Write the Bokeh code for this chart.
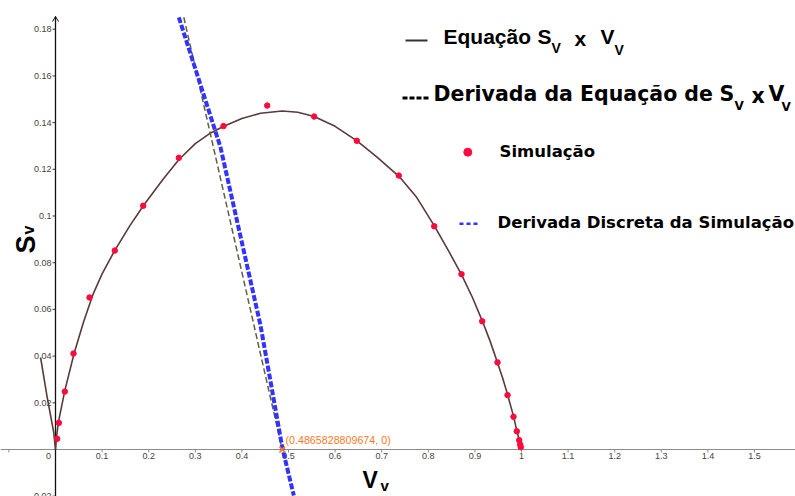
import numpy as np
from bokeh.plotting import figure
from bokeh.models import Range1d
from bokeh.core.properties import value
from bokeh.embed import file_html
from bokeh.resources import INLINE

# Equação S_V x V_V, sampled along the drawn curve
eq_vv = [-0.032, -0.018, -0.004, 0.0, 0.002, 0.006, 0.02, 0.04, 0.06, 0.08, 0.10,
         0.127, 0.16, 0.19, 0.23, 0.265, 0.30, 0.33, 0.36, 0.40, 0.44, 0.4866,
         0.52, 0.555, 0.60, 0.647, 0.69, 0.737, 0.775, 0.813, 0.845, 0.871, 0.895,
         0.916, 0.933, 0.948, 0.960, 0.970, 0.983, 0.990, 0.995, 0.998, 1.0]
eq_sv = [0.0394, 0.0225, 0.0075, 0.0, 0.0050, 0.0115, 0.0252, 0.0412, 0.0545, 0.0662, 0.0752,
         0.0852, 0.0960, 0.1048, 0.1155, 0.1242, 0.1310, 0.1352, 0.1383, 0.1418, 0.1440, 0.1450,
         0.1444, 0.1426, 0.1384, 0.1322, 0.1252, 0.1170, 0.1080, 0.0958, 0.0845, 0.0750, 0.0650,
         0.0550, 0.0462, 0.0375, 0.0303, 0.0236, 0.0142, 0.0080, 0.0042, 0.0015, 0.0]

# Simulação
sim_vv = [0.0036, 0.0071, 0.0200, 0.0386, 0.0730, 0.1273, 0.1882, 0.2646, 0.3605, 0.4543,
          0.5550, 0.6466, 0.7367, 0.8127, 0.8712, 0.9157, 0.9485, 0.9700, 0.9828, 0.9899,
          0.9951, 0.9972, 0.9985]
sim_sv = [0.0046, 0.0114, 0.0248, 0.0411, 0.0651, 0.0852, 0.1044, 0.1249, 0.1385, 0.1473,
          0.1426, 0.1322, 0.1173, 0.0956, 0.0751, 0.0549, 0.0373, 0.0233, 0.0140, 0.0078,
          0.0040, 0.0021, 0.0010]

# Derivada da Equação de S_V x V_V
deq_vv = [0.2753, 0.4866]
deq_sv = [0.1851, 0.0]

# Derivada Discreta da Simulação
dsim_vv = [0.2646, 0.354, 0.440, 0.4871, 0.5114]
dsim_sv = [0.1851, 0.1295, 0.0531, 0.0004, -0.0197]

# zero of the derivative
root_vv = 0.4865828809674

x_ticks = [-0.1, 0.1, 0.2, 0.3, 0.4, 0.5, 0.6, 0.7, 0.8, 0.9, 1.0, 1.1, 1.2, 1.3, 1.4, 1.5]
x_tick_labels = ["", "0.1", "0.2", "0.3", "0.4", "0.5", "0.6", "0.7", "0.8", "0.9",
                 "1", "1.1", "1.2", "1.3", "1.4", "1.5"]
y_ticks = [-0.02, 0.02, 0.04, 0.06, 0.08, 0.10, 0.12, 0.14, 0.16, 0.18]
y_tick_labels = ["-0.02", "0.02", "0.04", "0.06", "0.08", "0.1", "0.12", "0.14", "0.16", "0.18"]

# canvas geometry: pixels per unit and origin position on the page
W, H = 795, 496
XPP, YPP = 466.0, 2335.0
OX, OY = 55.0, 449.0


def sx(px):
    return (px - OX) / XPP


def sy(py):
    return (OY - py) / YPP


p = figure(width=W, height=H, output_backend="svg", toolbar_location=None,
           x_axis_type=None, y_axis_type=None, min_border=0,
           x_range=Range1d(sx(0), sx(W)), y_range=Range1d(sy(H), sy(0)))
p.outline_line_color = None
p.background_fill_color = "white"
p.border_fill_color = "white"

SANS = value("Liberation Sans")
WIDE = value("DejaVu Sans")

# axes
p.segment(x0=[sx(0)], y0=[0], x1=[sx(W)], y1=[0], line_color="#8c8c8c", line_width=1)
p.segment(x0=[0], y0=[sy(H)], x1=[0], y1=[sy(16)], line_color="#111111", line_width=1.3)
p.line(x=[sx(52), 0, sx(58)], y=[sy(21), sy(16), sy(21)], line_color="#111111", line_width=1)

# ticks
p.segment(x0=x_ticks, y0=[0] * len(x_ticks), x1=x_ticks, y1=[sy(452)] * len(x_ticks),
          line_color="#8c8c8c", line_width=1)
p.segment(x0=[sx(52)] * len(y_ticks), y0=y_ticks, x1=[0] * len(y_ticks), y1=y_ticks,
          line_color="#333333", line_width=1)
p.text(x=x_ticks, y=[sy(455)] * len(x_ticks), text=x_tick_labels, text_font=SANS,
       text_font_size="9px", text_color="#444444", text_align="center",
       text_baseline="middle")
p.text(x=[sx(48)], y=[sy(455)], text=["0"], text_font=SANS, text_font_size="9px",
       text_color="#444444", text_align="center", text_baseline="middle")
p.text(x=[sx(51)] * len(y_ticks), y=y_ticks, text=y_tick_labels, text_font=SANS,
       text_font_size="9px", text_color="#444444", text_align="right",
       text_baseline="middle")

# series
p.line(eq_vv, eq_sv, line_color="#5a3a3a", line_width=1.6)
p.line(deq_vv, deq_sv, line_color="#5f5f42", line_width=1.5, line_dash="6 3")
p.line(dsim_vv, dsim_sv, line_color="#3333ff", line_width=4, line_dash="6 2")
p.scatter(sim_vv, sim_sv, size=5.5, fill_color="#ff0a3c", line_color="#ff0a3c")

# derivative zero
p.scatter([root_vv], [0], marker="x", size=8, line_color="#ff7a1f", line_width=1.6)
p.text(x=[sx(285)], y=[sy(439)], text=["(%s, 0)" % repr(root_vv)], text_font=SANS,
       text_font_size="10.7px", text_color="#ff7a1f", text_align="left",
       text_baseline="middle")


def label(px, py, txt, size, font=SANS, color="#000000", angle=0.0, bold=True):
    p.text(x=[sx(px)], y=[sy(py)], text=[txt], text_font=font, text_font_size=size,
           text_font_style="bold" if bold else "normal", text_color=color,
           text_align="left", text_baseline="middle", angle=angle)


# axis titles
label(362, 479, "V", "23px")
label(380, 485, "v", "15px")
label(25, 253, "S", "27px", angle=np.pi / 2)
label(28, 234, "v", "16px", angle=np.pi / 2)

# legend, row 1
p.segment(x0=[sx(405)], y0=[sy(40)], x1=[sx(427)], y1=[sy(40)], line_color="#3a3030",
          line_width=2)
label(443, 36, "Equação", "21px")
label(537, 36, "S", "21px")
label(551, 47, "V", "14px")
label(574, 38, "x", "21px")
label(600, 36, "V", "21px")
label(614, 49, "V", "14px")

# legend, row 2
p.segment(x0=[sx(402)], y0=[sy(97.5)], x1=[sx(428)], y1=[sy(97.5)], line_color="#000000",
          line_width=3, line_dash="5 2")
label(433, 93, "Derivada da Equação de", "20.5px", font=WIDE)
label(719, 93, "S", "20.5px", font=WIDE)
label(734, 105, "V", "12px", font=WIDE)
label(751, 95, "x", "20.5px", font=WIDE)
label(768, 93, "V", "20.5px", font=WIDE)
label(781, 106, "V", "12px", font=WIDE)

# legend, row 3
p.scatter([sx(467.3)], [sy(151.7)], size=8, fill_color="#ff0a3c", line_color="#ff0a3c")
label(499, 151, "Simulação", "16.5px", font=WIDE)

# legend, row 4
p.segment(x0=[sx(459)], y0=[sy(223.3)], x1=[sx(478)], y1=[sy(223.3)], line_color="#3333ff",
          line_width=2.5, line_dash="4 3")
label(497, 222, "Derivada Discreta da Simulação", "16.5px", font=WIDE)

open("out.html", "w").write(file_html(p, INLINE))
